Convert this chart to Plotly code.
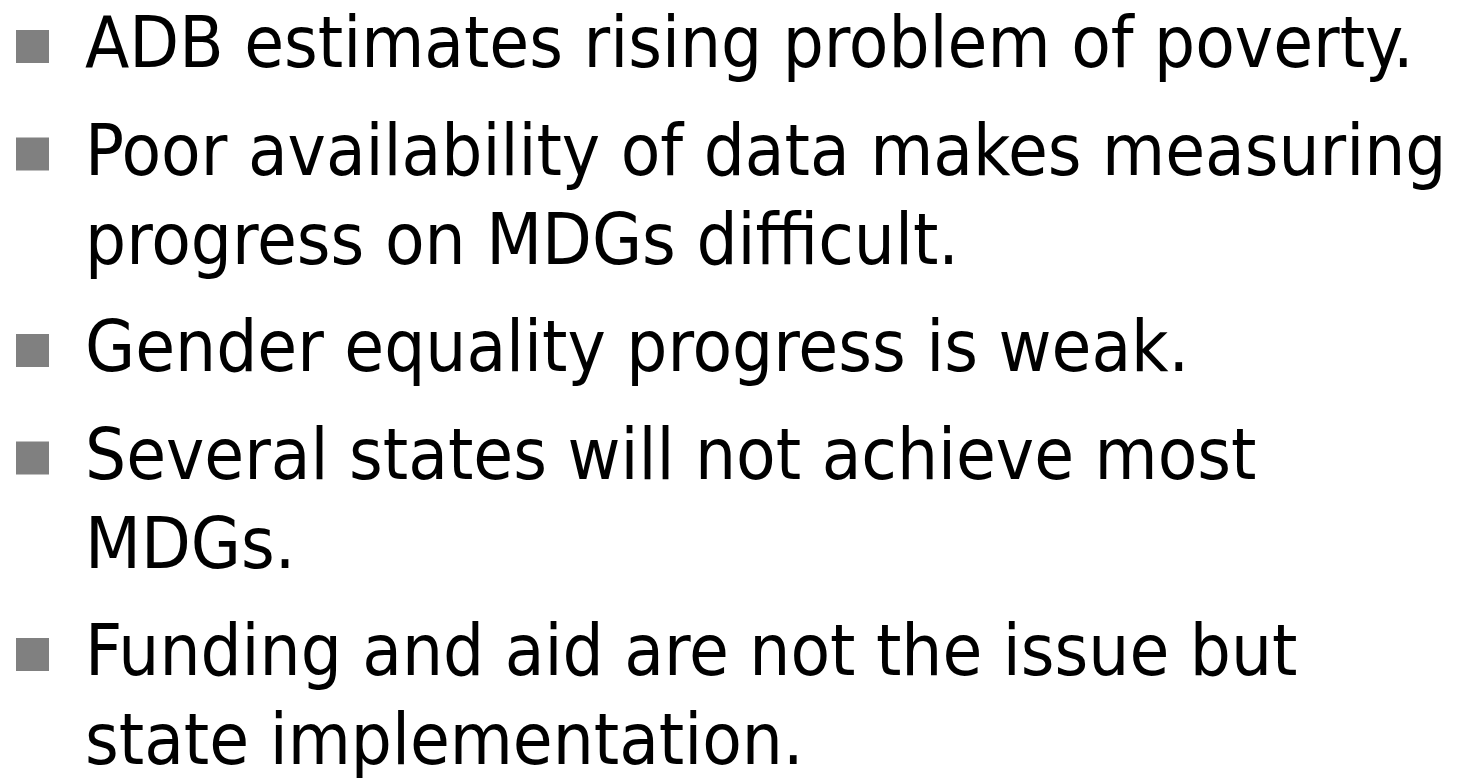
import plotly.graph_objects as go

# Slide content: bullet items, each split into its displayed lines
items = [
    ["ADB estimates rising problem of poverty."],
    ["Poor availability of data makes measuring", "progress on MDGs difficult."],
    ["Gender equality progress is weak."],
    ["Several states will not achieve most", "MDGs."],
    ["Funding and aid are not the issue but", "state implementation."],
]

# Layout constants (pixels)
W, H = 1460, 778
FONT_FAMILY = "DejaVu Sans Condensed, Liberation Sans, sans-serif"
FONT_SIZE = 72
TEXT_X = 85
BULLET_LEFT, BULLET_SIZE = 16, 33
FIRST_BASELINE = 67
ITEM_STEP = 107.5
WRAP_STEP = 89

line_text, line_y = [], []
bullet_base = []
base = FIRST_BASELINE
for i, lines in enumerate(items):
    if i > 0:
        base += ITEM_STEP
    bullet_base.append(base)
    for j, t in enumerate(lines):
        if j > 0:
            base += WRAP_STEP
        line_text.append(t)
        # plotly puts the baseline of "middle" text 0.25em below the point
        line_y.append(base - 0.25 * FONT_SIZE)

fig = go.Figure()
fig.add_trace(go.Scatter(
    x=[TEXT_X] * len(line_y), y=line_y, mode="text", text=line_text,
    textposition="middle right",
    textfont=dict(family=FONT_FAMILY, size=FONT_SIZE, color="#000000"),
    hoverinfo="skip", showlegend=False,
))
for b in bullet_base:
    fig.add_shape(type="rect", xref="x", yref="y",
                  x0=BULLET_LEFT, x1=BULLET_LEFT + BULLET_SIZE,
                  y0=b - 4 - BULLET_SIZE, y1=b - 4,
                  fillcolor="#808080", line=dict(width=0), layer="above")
fig.update_layout(
    width=W, height=H, margin=dict(l=0, r=0, t=0, b=0),
    paper_bgcolor="white", plot_bgcolor="white",
    xaxis=dict(range=[0, W], visible=False, fixedrange=True),
    yaxis=dict(range=[H, 0], visible=False, fixedrange=True),
)
fig.write_html("out.html", config={"displayModeBar": False},
               post_script="document.body.style.margin='0';")
